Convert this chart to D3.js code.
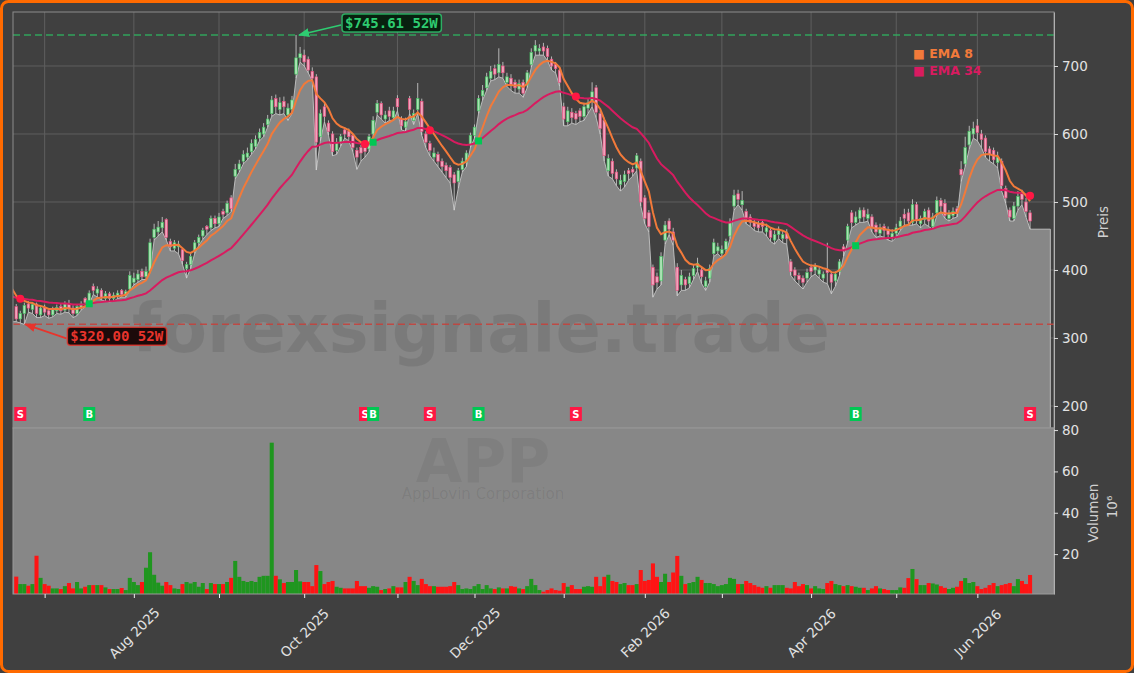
<!DOCTYPE html>
<html>
<head>
<meta charset="utf-8">
<title>APP</title>
<style>
  body { margin:0; background:#404040; }
  text { font-family:"DejaVu Sans", sans-serif; }
  .mono { font-family:"DejaVu Sans Mono", monospace; font-weight:bold; }
</style>
<script src="https://cdn.jsdelivr.net/npm/d3@7"></script>
</head>
<body>
<script>
// ---- data (daily bars, index 0 = 20 Jun 2025) ----
var openP = [346,328,336,350,342,350,334,345,340,334,
  340,346,341,350,344,336,345,358,352,376,
  366,370,358,365,358,362,370,363,372,382,
  386,398,390,398,448,456,462,474,442,432,
  434,430,402,408,428,440,450,464,462,476,
  468,486,484,506,538,548,560,566,574,582,
  594,600,614,630,652,636,648,628,636,688,
  712,716,710,692,684,596,640,616,600,576,
  588,606,604,598,576,580,580,578,600,632,
  645,622,634,624,652,622,610,652,620,636,
  648,600,586,566,570,560,554,551,540,530,
  548,558,584,598,634,656,668,682,696,690,
  700,676,682,676,666,676,672,702,722,722,
  728,726,710,702,694,640,618,632,630,634,
  626,638,648,668,630,620,546,560,544,526,
  530,546,548,550,560,506,484,404,390,384,
  444,472,456,404,378,386,380,392,404,400,
  376,388,424,428,424,430,450,494,512,496,
  486,478,470,468,470,456,458,444,452,446,
  454,412,400,392,388,388,404,400,394,388,
  400,394,384,398,434,444,484,470,476,488,
  476,478,466,454,464,460,448,454,464,482,
  484,470,496,468,474,488,464,484,502,498,
  476,480,490,548,556,584,600,612,600,594,
  578,576,558,560,520,488,476,494,512,500,
  484];
var highP = [350,340,352,354,353,352,347,349,344,346,
  349,350,354,356,348,350,354,360,370,380,
  376,373,369,368,367,370,372,371,398,396,
  400,402,405,446,468,472,478,476,446,444,
  443,432,412,424,444,452,462,466,480,480,
  484,490,502,510,556,562,576,580,592,598,
  608,616,628,656,658,654,655,645,656,745.61,
  728,724,714,698,688,636,646,620,604,594,
  600,610,608,600,580,584,586,600,626,650,
  648,634,640,640,657,626,624,656,636,675,
  652,604,590,580,574,564,558,554,544,550,
  565,576,602,614,657,672,690,700,702,726,
  706,690,688,680,680,680,694,726,738,732,
  734,730,714,706,698,646,640,638,634,638,
  646,652,676,672,634,624,570,564,548,540,
  546,550,552,572,564,510,488,408,396,426,
  472,476,462,410,400,390,396,408,418,404,
  390,408,446,440,436,446,476,518,518,516,
  490,482,474,472,474,468,462,458,464,458,
  460,416,404,396,392,402,408,410,404,398,
  440,398,398,416,438,468,488,486,492,492,
  490,482,470,468,468,464,460,468,478,490,
  490,504,500,480,490,492,484,508,506,504,
  488,492,494,560,596,612,618,622,606,598,
  582,580,574,564,524,492,500,516,518,506,
  488];
var lowP = [324,322,320,338,336,330,330,333,329,331,
  336,335,338,337,330,333,341,346,350,364,
  360,356,354,353,354,358,360,360,370,378,
  382,386,386,396,444,450,456,444,428,428,
  424,408,388,402,424,436,445,452,458,462,
  464,476,480,486,534,544,556,562,570,578,
  590,596,610,626,630,628,630,620,630,682,
  706,700,690,678,547,590,618,598,568,570,
  582,594,590,574,548,560,566,574,596,628,
  622,616,620,620,634,606,604,630,614,630,
  598,580,568,560,552,544,536,528,488,520,
  544,552,580,594,630,650,664,678,680,684,
  682,670,664,660,660,654,668,698,716,716,
  716,708,694,690,670,612,612,616,614,618,
  620,630,640,624,600,560,538,534,524,516,
  522,532,538,546,494,468,456,360,372,378,
  438,452,436,362,370,370,374,386,398,380,
  370,382,420,424,418,424,446,488,496,488,
  468,464,458,456,456,450,442,438,446,440,
  438,392,384,378,372,382,390,394,388,382,
  380,365,376,392,420,440,462,466,470,470,
  472,456,448,450,448,444,442,448,458,466,
  466,466,468,462,468,464,460,480,486,476,
  472,476,478,530,552,578,594,590,580,566,
  560,556,550,516,498,472,472,488,496,478,
  460];
var closeP = [328,336,348,344,349,336,344,338,334,342,
  345,340,350,343,336,346,350,352,366,370,
  372,360,365,358,363,366,364,368,392,388,
  394,390,398,440,460,463,470,448,434,440,
  438,414,408,420,440,448,458,460,476,468,
  478,482,498,490,548,556,570,572,586,592,
  602,610,622,650,640,646,640,638,650,712,
  718,706,694,682,588,630,626,604,574,588,
  596,600,596,580,566,572,574,596,620,645,
  628,628,626,634,640,612,618,636,630,652,
  604,588,576,572,560,552,546,536,528,546,
  560,572,598,610,652,664,684,692,688,702,
  690,684,672,668,674,660,690,720,730,726,
  722,714,700,696,676,622,634,624,622,626,
  640,646,662,632,608,568,564,542,534,532,
  540,542,544,568,500,476,464,378,382,420,
  466,460,444,370,392,378,390,402,410,390,
  384,402,440,434,430,442,470,510,504,502,
  476,470,464,462,464,462,448,452,458,452,
  446,398,392,386,382,396,398,406,400,394,
  396,382,394,412,428,464,470,478,488,478,
  482,462,456,462,458,452,454,462,472,476,
  472,496,474,476,486,472,478,502,494,480,
  482,486,484,540,580,604,608,602,592,574,
  570,562,566,524,506,478,494,508,504,486,
  472];
// volume in millions
var volume = [9.1,5.5,5.5,4.7,5.5,19.2,8.5,5.5,4.7,3.4,
  3.4,3.1,4.5,6.0,3.4,6.5,3.4,4.2,5.0,5.0,
  5.0,5.0,3.9,3.1,3.1,3.1,3.6,2.6,8.5,6.5,
  5.0,6.5,13.4,20.9,10.0,6.2,4.7,6.5,5.0,3.4,
  3.1,5.5,6.5,5.8,6.5,4.2,6.0,3.1,6.0,5.5,
  5.5,5.5,6.5,8.5,16.7,9.0,7.0,6.5,7.0,6.5,
  9.0,9.5,9.5,73.9,9.5,7.8,6.0,6.5,6.5,12.3,
  6.8,6.5,6.5,4.5,14.7,11.8,5.5,6.5,7.0,4.2,
  3.7,3.4,3.4,3.4,7.0,4.5,4.5,3.7,4.5,4.2,
  2.6,3.1,3.4,4.5,3.9,3.9,6.5,9.0,7.0,5.0,
  8.0,5.5,4.5,4.5,4.2,4.2,4.2,4.5,6.5,5.0,
  3.1,3.4,3.1,4.5,5.5,3.1,5.0,3.4,3.1,3.9,
  3.4,3.4,4.5,4.2,3.4,3.1,4.5,8.0,5.0,2.6,
  1.8,2.6,3.4,2.6,2.3,6.0,4.2,5.0,3.1,3.1,
  4.2,4.5,4.2,9.0,4.5,9.0,10.0,7.0,6.5,5.5,
  6.0,5.0,5.0,5.5,12.3,7.0,7.5,15.5,9.0,6.5,
  10.5,6.5,11.1,19.1,9.5,5.5,6.0,6.5,9.0,7.5,
  6.0,6.0,5.5,4.5,5.0,5.5,8.5,8.0,5.5,5.5,
  7.0,6.0,5.0,4.2,3.7,4.5,3.7,5.0,5.0,5.0,
  3.7,3.4,6.5,4.5,5.5,5.0,3.4,4.5,3.4,3.1,
  6.0,7.0,5.5,5.0,4.5,5.0,4.5,4.2,3.7,3.7,
  2.6,3.4,4.5,3.4,3.1,2.6,2.6,2.6,3.9,3.7,
  8.4,12.8,7.9,5.0,5.0,6.0,5.8,5.3,4.5,3.7,
  3.1,3.7,4.2,7.0,8.4,6.0,6.5,4.5,3.1,3.7,
  5.0,6.0,4.5,5.0,5.5,6.0,4.5,7.9,7.0,5.5,
  9.9];

var monthTickIdx = [7,29,50,71,94,113,135,155,174,196,217,237];
var monthTickLbl = ["","Aug 2025","","Oct 2025","","Dec 2025","","Feb 2026","","Apr 2026","","Jun 2026"];
var priceTicks = [200,300,400,500,600,700];
var volTicks = [20,40,60,80];
var buyIdx = [18,88,114,207];
var sellIdx = [1,86,102,138,250];
var emaSeed = {fast:372, slow:361};   // EMA values carried in from before the window
var fillEndIdx = 255;

// ---- layout ----
var width = 1134, height = 673;
var pan = {left:13, right:1054, top:12, mid:428, bottom:594};
var colUp = "#1f961f", colDown = "#ff1414";
var colEma8 = "#f27a3a", colEma34 = "#d81b60";

var svg = d3.select("body").append("svg").attr("width", width).attr("height", height);
svg.append("rect").attr("width", width).attr("height", height).attr("fill", "#404040");

var x = d3.scaleLinear().domain([-0.8, 255.9]).range([pan.left, pan.right]);
var y = d3.scaleLinear().domain([167.6, 779.4]).range([pan.mid, pan.top]);
var yv = d3.scaleLinear().domain([0.7, 81]).range([pan.bottom, pan.mid]);
var bw = x(1) - x(0);

var defs = svg.append("defs");
defs.append("clipPath").attr("id", "clipP").append("rect")
  .attr("x", pan.left).attr("y", pan.top).attr("width", pan.right - pan.left).attr("height", pan.mid - pan.top);
defs.append("clipPath").attr("id", "clipV").append("rect")
  .attr("x", pan.left).attr("y", pan.mid).attr("width", pan.right - pan.left).attr("height", pan.bottom - pan.mid);
["g", "r"].forEach(function(k) {
  defs.append("marker").attr("id", "arr" + k).attr("viewBox", "0 0 10 10")
    .attr("refX", 9).attr("refY", 5).attr("markerWidth", 7).attr("markerHeight", 7)
    .attr("orient", "auto").append("path").attr("d", "M0,1L10,5L0,9z")
    .attr("fill", k == "g" ? "#2ecc71" : "#e8342c");
});

var idx = d3.range(closeP.length);

// EMA
function ema(seed, n) {
  var a = 2 / (n + 1), prev = seed, out = [[-1, seed]];
  closeP.forEach(function(c, i) { prev = prev + a * (c - prev); out.push([i, prev]); });
  return out;
}
var ema8 = ema(emaSeed.fast, 8), ema34 = ema(emaSeed.slow, 34);

// ---- price panel ----
var gp = svg.append("g").attr("clip-path", "url(#clipP)");

// grid
gp.selectAll("line.gx").data(monthTickIdx).enter().append("line")
  .attr("x1", function(d){ return x(d); }).attr("x2", function(d){ return x(d); })
  .attr("y1", pan.top).attr("y2", pan.mid).attr("stroke", "#5e5e5e").attr("stroke-width", 1);
gp.selectAll("line.gy").data(priceTicks).enter().append("line")
  .attr("x1", pan.left).attr("x2", pan.right)
  .attr("y1", function(d){ return y(d); }).attr("y2", function(d){ return y(d); })
  .attr("stroke", "#5e5e5e").attr("stroke-width", 1);

// area under the lows (starts at the left edge, runs flat past the last bar)
var fillPts = [[x.domain()[0], lowP[0]]].concat(idx.map(function(i){ return [i, lowP[i]]; }));
fillPts.push([fillEndIdx, lowP[lowP.length - 1]]);
gp.append("path").datum(fillPts)
  .attr("d", d3.area().x(function(d){ return x(d[0]); }).y0(pan.mid).y1(function(d){ return y(d[1]); }))
  .attr("fill", "#878787");
gp.append("path").datum(fillPts.concat([[fillEndIdx, y.invert(pan.mid)]]))
  .attr("d", d3.line().x(function(d){ return x(d[0]); }).y(function(d){ return y(d[1]); }))
  .attr("fill", "none").attr("stroke", "#c4c4c4").attr("stroke-width", 0.9);

// watermark
gp.append("text").attr("x", 481).attr("y", 352).attr("text-anchor", "middle")
  .attr("font-size", 67).attr("font-weight", "bold").attr("fill", "#000").attr("fill-opacity", 0.09)
  .text("forexsignale.trade");

// 52W lines
var hiI = d3.maxIndex(highP), loI = d3.minIndex(lowP);
gp.append("line").attr("x1", pan.left).attr("x2", pan.right).attr("y1", y(highP[hiI])).attr("y2", y(highP[hiI]))
  .attr("stroke", "#2fb560").attr("stroke-width", 1.5).attr("stroke-dasharray", "7,4").attr("opacity", 0.85);
gp.append("line").attr("x1", pan.left).attr("x2", pan.right).attr("y1", y(lowP[loI])).attr("y2", y(lowP[loI]))
  .attr("stroke", "#c8403a").attr("stroke-width", 1.5).attr("stroke-dasharray", "7,4").attr("opacity", 0.85);

// candles
var candles = gp.selectAll("g.candle").data(idx).enter().append("g");
candles.append("line")
  .attr("x1", function(i){ return x(i); }).attr("x2", function(i){ return x(i); })
  .attr("y1", function(i){ return y(highP[i]); }).attr("y2", function(i){ return y(lowP[i]); })
  .attr("stroke", "#d4d4d4").attr("stroke-width", 0.8);
candles.append("rect")
  .attr("x", function(i){ return x(i) - 1.3; }).attr("width", 2.6)
  .attr("y", function(i){ return y(Math.max(openP[i], closeP[i])); })
  .attr("height", function(i){ return Math.max(0.8, Math.abs(y(openP[i]) - y(closeP[i]))); })
  .attr("fill", function(i){ return closeP[i] >= openP[i] ? "#a9e2b2" : "#f1a3bc"; })
  .attr("stroke", function(i){ return closeP[i] >= openP[i] ? "#3cbf5c" : "#e8487a"; })
  .attr("stroke-width", 0.6);

// EMA lines
var emaLine = d3.line().x(function(d){ return x(d[0]); }).y(function(d){ return y(d[1]); });
gp.append("path").datum(ema34).attr("d", emaLine).attr("fill", "none").attr("stroke", colEma34).attr("stroke-width", 2);
gp.append("path").datum(ema8).attr("d", emaLine).attr("fill", "none").attr("stroke", colEma8).attr("stroke-width", 2);

// crossover markers on the slow EMA
gp.selectAll("circle.sell").data(sellIdx).enter().append("circle")
  .attr("cx", function(i){ return x(i); }).attr("cy", function(i){ return y(ema34[i + 1][1]); })
  .attr("r", 4).attr("fill", "#ff1744");
gp.selectAll("rect.buy").data(buyIdx).enter().append("rect")
  .attr("x", function(i){ return x(i) - 3.5; }).attr("y", function(i){ return y(ema34[i + 1][1]) - 3.5; })
  .attr("width", 7).attr("height", 7).attr("fill", "#00c853");

// signal boxes at bottom
var sig = buyIdx.map(function(i){ return {i:i, t:"B", c:"#00c853"}; })
  .concat(sellIdx.map(function(i){ return {i:i, t:"S", c:"#ff1744"}; }))
  .sort(function(a, b){ return a.i - b.i; });
var sg = gp.selectAll("g.sig").data(sig).enter().append("g")
  .attr("transform", function(d){ return "translate(" + x(d.i) + "," + (pan.mid - 14) + ")"; });
sg.append("rect").attr("x", -6).attr("y", -7).attr("width", 12).attr("height", 14).attr("fill", function(d){ return d.c; });
sg.append("text").attr("text-anchor", "middle").attr("dy", "0.36em").attr("font-size", 10).attr("font-weight", "bold")
  .attr("fill", "#fff").text(function(d){ return d.t; });

// legend
var leg = svg.append("g").attr("font-size", 12.5).attr("font-weight", "bold");
leg.append("text").attr("x", 913).attr("y", 58).attr("fill", colEma8).text("\u25A0 EMA 8");
leg.append("text").attr("x", 913).attr("y", 75).attr("fill", colEma34).text("\u25A0 EMA 34");

// 52W annotations
function note(txt, bx, by, tx, ty, fg, bg, k) {
  var g = svg.append("g");
  var t = g.append("text").attr("class", "mono").attr("x", bx + 3).attr("y", by).attr("font-size", 14).attr("fill", fg).text(txt);
  var bb = t.node().getBBox();
  g.insert("rect", "text").attr("x", bb.x - 3).attr("y", bb.y - 1).attr("width", bb.width + 6).attr("height", bb.height + 2)
    .attr("rx", 3).attr("fill", bg).attr("stroke", fg).attr("stroke-width", 1.5).attr("stroke-opacity", 0.8);
  svg.append("line").attr("x1", bb.x - 4).attr("y1", by - 3).attr("x2", tx).attr("y2", ty)
    .attr("stroke", fg).attr("stroke-width", 1.6).attr("marker-end", "url(#arr" + k + ")");
}
note("$" + highP[hiI].toFixed(2) + " 52W", x(hiI) + 46, y(highP[hiI]) - 7, x(hiI) + 3, y(highP[hiI]), "#2ecc71", "#08200f", "g");
note("$" + lowP[loI].toFixed(2) + " 52W", x(loI) + 43, y(lowP[loI]) + 17, x(loI) + 1, y(lowP[loI]), "#e8342c", "#1c0a0a", "r");

// price frame + axis
svg.append("rect").attr("x", pan.left).attr("y", pan.top).attr("width", pan.right - pan.left).attr("height", pan.mid - pan.top)
  .attr("fill", "none").attr("stroke", "#8c8c8c").attr("stroke-width", 1);
var ya = svg.append("g").attr("transform", "translate(" + pan.right + ",0)")
  .call(d3.axisRight(y).tickValues(priceTicks).tickSize(4).tickPadding(4).tickSizeOuter(0));
ya.select(".domain").attr("stroke", "#b0b0b0");
ya.selectAll(".tick line").attr("stroke", "#dddddd");
ya.selectAll("text").attr("fill", "#e2e2e2").attr("font-size", 13.5).attr("font-family", "DejaVu Sans");
svg.append("text").attr("transform", "translate(1103,222) rotate(-90)").attr("text-anchor", "middle").attr("dy", "0.35em")
  .attr("font-size", 13.5).attr("fill", "#d0d0d0").text("Preis");

// ---- volume panel ----
var gv = svg.append("g").attr("clip-path", "url(#clipV)");
gv.append("rect").attr("x", pan.left).attr("y", pan.mid).attr("width", pan.right - pan.left).attr("height", pan.bottom - pan.mid)
  .attr("fill", "#878787");
gv.append("text").attr("x", 483).attr("y", 482).attr("text-anchor", "middle").attr("font-size", 60).attr("font-weight", "bold")
  .attr("fill", "#000").attr("fill-opacity", 0.06).text("APP");
gv.append("text").attr("x", 483).attr("y", 499).attr("text-anchor", "middle").attr("font-size", 15)
  .attr("fill", "#000").attr("fill-opacity", 0.08).text("AppLovin Corporation");
gv.selectAll("rect.vol").data(idx).enter().append("rect")
  .attr("x", function(i){ return x(i) - bw / 2; }).attr("width", bw)
  .attr("y", function(i){ return yv(volume[i]); })
  .attr("height", function(i){ return pan.bottom - yv(volume[i]); })
  .attr("fill", function(i){ return closeP[i] >= openP[i] ? colUp : colDown; });
svg.append("rect").attr("x", pan.left).attr("y", pan.mid).attr("width", pan.right - pan.left).attr("height", pan.bottom - pan.mid)
  .attr("fill", "none").attr("stroke", "#9a9a9a").attr("stroke-width", 1);

var va = svg.append("g").attr("transform", "translate(" + pan.right + ",0)")
  .call(d3.axisRight(yv).tickValues(volTicks).tickSize(4).tickPadding(4).tickSizeOuter(0));
va.select(".domain").attr("stroke", "#b0b0b0");
va.selectAll(".tick line").attr("stroke", "#dddddd");
va.selectAll("text").attr("fill", "#e2e2e2").attr("font-size", 13.5).attr("font-family", "DejaVu Sans");
svg.append("text").attr("transform", "translate(1093,513) rotate(-90)").attr("text-anchor", "middle").attr("dy", "0.35em")
  .attr("font-size", 13.5).attr("fill", "#d0d0d0").text("Volumen");
svg.append("text").attr("transform", "translate(1112,507) rotate(-90)").attr("text-anchor", "middle").attr("dy", "0.35em")
  .attr("font-size", 13.5).attr("fill", "#d0d0d0").text("10\u2076");

// x axis
var xa = svg.append("g").attr("transform", "translate(0," + pan.bottom + ")")
  .call(d3.axisBottom(x).tickValues(monthTickIdx).tickFormat(function(d, i){ return monthTickLbl[i]; }).tickSize(4).tickSizeOuter(0));
xa.select(".domain").remove();
xa.selectAll(".tick line").attr("stroke", "#eeeeee");
xa.selectAll("text").attr("fill", "#e2e2e2").attr("font-size", 13.5).attr("font-family", "DejaVu Sans")
  .attr("text-anchor", "middle").attr("y", 0).attr("dy", "0.35em")
  .attr("transform", "translate(0,39) rotate(-45)");

// outer border
svg.append("rect").attr("x", 1.5).attr("y", 1.5).attr("width", width - 3).attr("height", height - 3).attr("rx", 7)
  .attr("fill", "none").attr("stroke", "#ff6a00").attr("stroke-width", 3);
</script>
</body>
</html>
